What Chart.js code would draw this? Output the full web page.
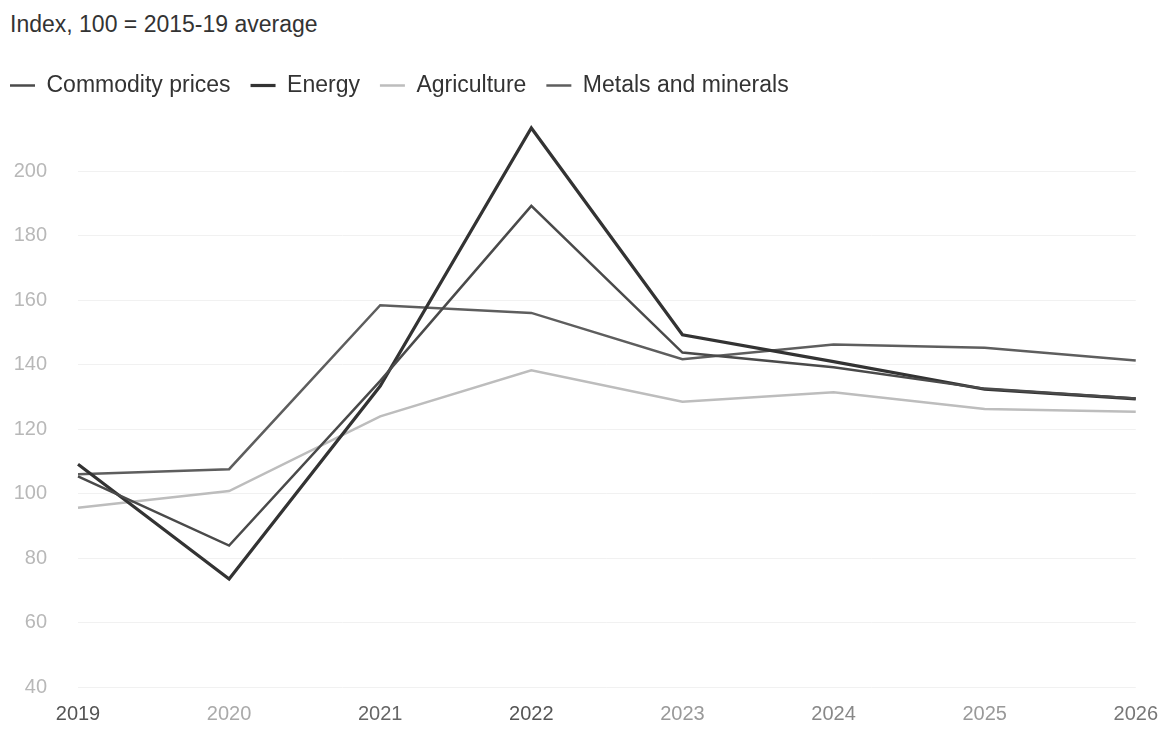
<!DOCTYPE html>
<html><head><meta charset="utf-8">
<script src="https://cdn.jsdelivr.net/npm/chart.js@4"></script>
<style>
html,body{margin:0;padding:0;background:#fff;width:1173px;height:730px;overflow:hidden;position:relative;font-family:"Liberation Sans",Arial,sans-serif;}
#title{position:absolute;left:10px;top:13px;font-size:23px;line-height:23px;color:#333;white-space:nowrap;}
#wrap{position:absolute;left:-10px;top:54px;width:1183px;height:676px;}
</style></head><body>
<div id="title">Index, 100 = 2015-19 average</div>
<div id="wrap"><canvas id="c" width="1183" height="676"></canvas></div>
<script>
const years = ['2019', '2020', '2021', '2022', '2023', '2024', '2025', '2026'];
const commodityPrices = [105.4, 83.9, 135, 189.3, 143.8, 139.2, 132.6, 129.5];
const energy = [109.1, 73.5, 133.4, 213.5, 149.3, 141, 132.4, 129.4];
const agriculture = [95.6, 100.8, 124, 138.3, 128.5, 131.5, 126.3, 125.4];
const metalsAndMinerals = [106, 107.6, 158.5, 156.1, 141.7, 146.3, 145.3, 141.3];
const yTickValues = [40, 60, 80, 100, 120, 140, 160, 180, 200];

const FONT = "'Liberation Sans', Arial, sans-serif";
const xLabelColors = ['#555', '#aaa', '#666', '#555', '#999', '#888', '#999', '#777'];

new Chart(document.getElementById('c'), {
  type: 'line',
  data: {
    labels: years,
    datasets: [
      { label: 'Commodity prices', data: commodityPrices, borderColor: '#4a4a4a', backgroundColor: '#4a4a4a', borderWidth: 2.5 },
      { label: 'Energy', data: energy, borderColor: '#333333', backgroundColor: '#333333', borderWidth: 3.2 },
      { label: 'Agriculture', data: agriculture, borderColor: '#bdbdbd', backgroundColor: '#bdbdbd', borderWidth: 2.5 },
      { label: 'Metals and minerals', data: metalsAndMinerals, borderColor: '#5e5e5e', backgroundColor: '#5e5e5e', borderWidth: 2.5 }
    ]
  },
  options: {
    responsive: false,
    animation: false,
    devicePixelRatio: 1,
    elements: { point: { radius: 0 }, line: { tension: 0 } },
    layout: { padding: { left: 0, right: 28, top: 0, bottom: 0 }, autoPadding: false },
    plugins: {
      legend: {
        position: 'top', align: 'start',
        labels: {
          usePointStyle: true, pointStyle: 'line', pointStyleWidth: 25, boxWidth: 25, boxHeight: 23,
          padding: 20, color: '#333', font: { size: 23, family: FONT }
        }
      },
      tooltip: { enabled: false },
      title: { display: false }
    },
    scales: {
      x: {
        type: 'category', offset: false,
        afterFit: (axis) => { axis.height = 37; },
        grid: { display: false, drawTicks: false },
        border: { display: false },
        ticks: { font: { size: 20, family: FONT }, color: (ctx) => xLabelColors[ctx.index] || '#777', padding: 15, maxRotation: 0, autoSkip: false }
      },
      y: {
        min: 40, max: 220,
        afterBuildTicks: (axis) => { axis.ticks = yTickValues.map(v => ({ value: v })); },
        afterFit: (axis) => { axis.width = 88; },
        grid: { color: '#f1f1f1', drawTicks: false, lineWidth: 1 },
        border: { display: false },
        ticks: { font: { size: 20, family: FONT }, color: '#b8b8b8', padding: 31 }
      }
    }
  }
});
</script>
</body></html>
